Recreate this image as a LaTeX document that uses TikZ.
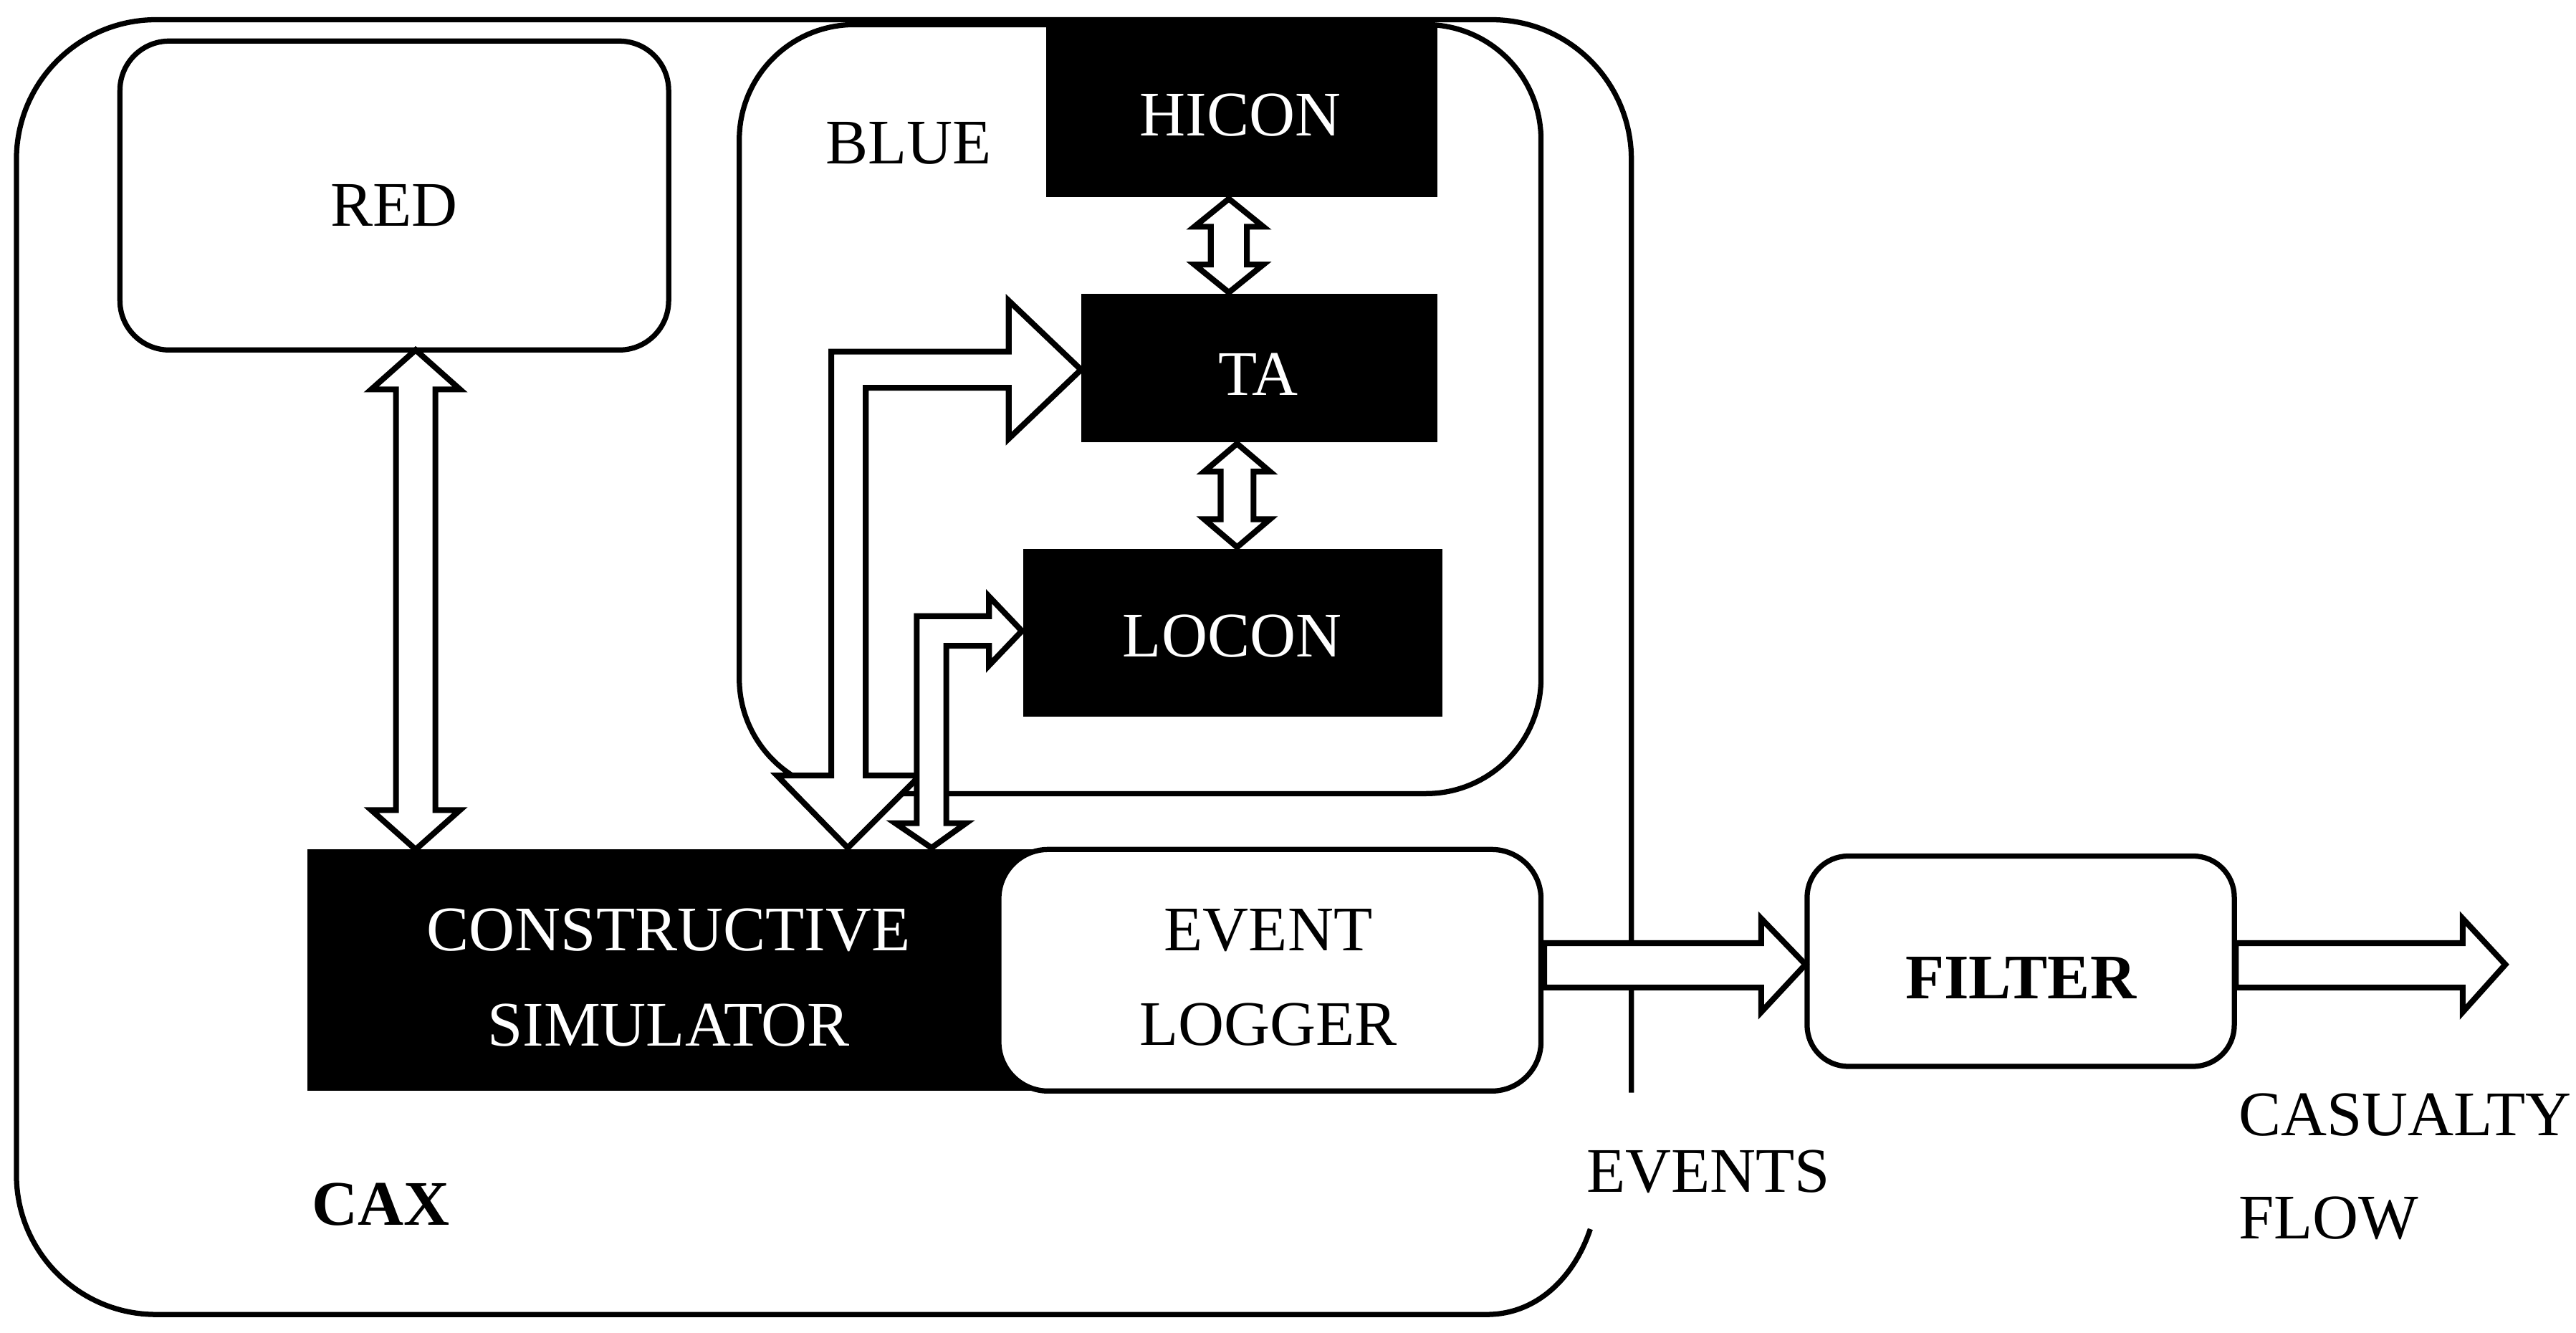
\documentclass[tikz,border=0pt]{standalone}
\usepackage{fontspec}
\setmainfont{Liberation Serif}
\begin{document}
\begin{tikzpicture}[x=0.1mm,y=-0.1mm,line join=miter,
  lbl/.style={font=\fontsize{11}{16.4}\selectfont,align=center},
  bx/.style={draw=black,line width=0.9pt,fill=white},
  barrow/.style={draw=black,line width=1pt,fill=white}]
\useasboundingbox (0,0) rectangle (1568,811);
% outer CAX
\draw[line width=0.9pt] (993,665) [rounded corners=8.5mm]-- (993,12) -- (10,12) -- (10,800) [sharp corners]-- (905,800) .. controls (935,800) and (958,778) .. (968,748);
\node[lbl,font=\fontsize{11}{14}\selectfont\bfseries] (cax) at (232,733) {CAX};
% RED
\draw[bx,rounded corners=3mm] (73,25) rectangle (407,213);
\node[lbl] (red) at (240,125) {RED};
% BLUE
\draw[bx,rounded corners=7mm] (450,15) rectangle (938,483);
\node[lbl] (blue) at (553,87) {BLUE};
\fill (637,15) rectangle (875,120);
\node[lbl,text=white] (hicon) at (755,70) {HICON};
\fill (658,179) rectangle (875,269);
\node[lbl,text=white] (ta) at (766,228) {TA};
\fill (623,334) rectangle (878,436);
\node[lbl,text=white] (locon) at (750,387) {LOCON};
% CS and logger
\fill (187,517) rectangle (630,664);
\node[lbl,text=white] (cs) at (407,595) {CONSTRUCTIVE\\SIMULATOR};
\draw[bx,rounded corners=3mm] (608,517) rectangle (938,664);
\node[lbl] (logger) at (772,595) {EVENT\\LOGGER};
% FILTER
\draw[bx,rounded corners=2.5mm] (1100,521) rectangle (1360,649);
\node[lbl,font=\fontsize{11}{14}\selectfont\bfseries] (filter) at (1230,595) {FILTER};
% labels
\node[lbl,anchor=west,inner sep=0pt] (events) at (965,713) {EVENTS};
\node[lbl,anchor=west,align=left,inner sep=0pt] (cas) at (1362,710) {CASUALTY\\[1.5pt]FLOW};
% RED <-> CS
\draw[barrow] (253,213) -- (280,237) -- (265,237) -- (265,493) -- (280,493) -- (253,517) -- (226,493) -- (241,493) -- (241,237) -- (226,237) -- cycle;
% HICON <-> TA
\draw[barrow] (748,121) -- (769,138) -- (759,138) -- (759,161) -- (769,161) -- (748,178) -- (727,161) -- (737,161) -- (737,138) -- (727,138) -- cycle;
% TA <-> LOCON
\draw[barrow] (753,270) -- (773,287) -- (763,287) -- (763,316) -- (773,316) -- (753,333) -- (733,316) -- (743,316) -- (743,287) -- (733,287) -- cycle;
% CS -> TA (big arrow)
\draw[barrow] (516,516) -- (473,472) -- (506,472) -- (506,214) -- (614,214) -- (614,183) -- (658,225) -- (614,267) -- (614,236) -- (527,236) -- (527,472) -- (560,472) -- cycle;
% CS <-> LOCON
\draw[barrow] (567,516) -- (545,501) -- (558,501) -- (558,375) -- (602,375) -- (602,363) -- (622,384) -- (602,405) -- (602,393) -- (576,393) -- (576,501) -- (588,501) -- cycle;
% events arrow
\draw[barrow] (940,574) -- (1072,574) -- (1072,559) -- (1099,587) -- (1072,616) -- (1072,601) -- (940,601) -- cycle;
% output arrow
\draw[barrow] (1361,574) -- (1499,574) -- (1499,559) -- (1525,587) -- (1499,616) -- (1499,601) -- (1361,601) -- cycle;
\end{tikzpicture}
\end{document}
